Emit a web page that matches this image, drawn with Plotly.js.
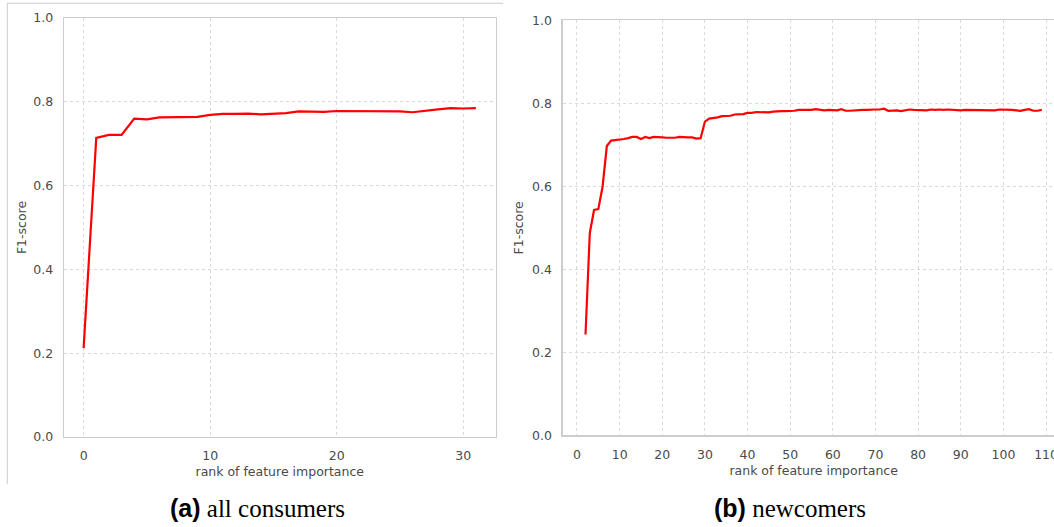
<!DOCTYPE html>
<html>
<head>
<meta charset="utf-8">
<script src="https://cdn.plot.ly/plotly-3.0.1.min.js"></script>
<style>
html,body{margin:0;padding:0;overflow:hidden;background:#fff;}
#chart{width:1070px;height:527px;}
</style>
</head>
<body>
<div id="chart"></div>
<script>
// ---- data ----
var allConsumersStart = 0;
var allConsumersF1 = [0.212, 0.714, 0.721, 0.721, 0.760, 0.758, 0.763, 0.763, 0.764, 0.764,
  0.769, 0.771, 0.771, 0.772, 0.770, 0.772, 0.773, 0.777, 0.776, 0.776,
  0.778, 0.778, 0.778, 0.778, 0.778, 0.777, 0.775, 0.779, 0.782, 0.785,
  0.784, 0.785];

var newcomersStart = 2;
var newcomersF1 = [0.243, 0.487, 0.543, 0.545, 0.599, 0.697, 0.710, 0.711,
  0.712, 0.714, 0.716, 0.719, 0.719, 0.714, 0.719, 0.716, 0.719, 0.719,
  0.718, 0.717, 0.717, 0.717, 0.719, 0.718, 0.718, 0.718, 0.715, 0.716,
  0.756, 0.763, 0.764, 0.766, 0.769, 0.769, 0.770, 0.773, 0.774, 0.774,
  0.777, 0.777, 0.779, 0.779, 0.779, 0.778, 0.780, 0.781, 0.781, 0.781,
  0.781, 0.782, 0.784, 0.784, 0.785, 0.784, 0.786, 0.784, 0.783, 0.784,
  0.783, 0.783, 0.786, 0.782, 0.782, 0.783, 0.783, 0.784, 0.784, 0.785,
  0.785, 0.785, 0.787, 0.782, 0.783, 0.783, 0.781, 0.783, 0.785, 0.784,
  0.784, 0.784, 0.783, 0.785, 0.784, 0.785, 0.784, 0.785, 0.784, 0.784,
  0.783, 0.784, 0.784, 0.784, 0.784, 0.784, 0.783, 0.783, 0.783, 0.785,
  0.785, 0.784, 0.784, 0.783, 0.782, 0.784, 0.786, 0.782, 0.782, 0.784];

var leftXTicks = [0, 10, 20, 30];
var rightXTicks = [0, 10, 20, 30, 40, 50, 60, 70, 80, 90, 100, 110];
var yTicks = [0.0, 0.2, 0.4, 0.6, 0.8, 1.0];
var xTitle = 'rank of feature importance';
var yTitle = 'F1-score';
var captionA = ['(a)', 'all consumers'];
var captionB = ['(b)', 'newcomers'];

function ranks(start, n) { var r = []; for (var i = 0; i < n; i++) r.push(start + i); return r; }

// ---- style ----
var W = 1070, H = 527;
var tickFont = {family: 'DejaVu Sans', size: 12.5, color: '#4a4a4a'};
var titleFont = {family: 'DejaVu Sans', size: 12.5, color: '#4a4a4a'};
function axisBase() {
  return {
    showgrid: true, gridcolor: '#dadada', gridwidth: 1, griddash: 'dot',
    showline: true, mirror: true, linecolor: '#cdcdcd', linewidth: 1.3,
    zeroline: false, ticks: '', tickfont: tickFont, ticklabelstandoff: 7,
    automargin: false, fixedrange: true
  };
}

var traces = [
  {x: ranks(allConsumersStart, allConsumersF1.length), y: allConsumersF1, type: 'scatter', mode: 'lines',
   line: {color: '#ff0000', width: 2.2}, xaxis: 'x', yaxis: 'y', hoverinfo: 'skip'},
  {x: ranks(newcomersStart, newcomersF1.length), y: newcomersF1, type: 'scatter', mode: 'lines',
   line: {color: '#ff0000', width: 2.2}, xaxis: 'x2', yaxis: 'y2', hoverinfo: 'skip'}
];

var xa = axisBase(); xa.domain = [64/W, 495.5/W]; xa.range = [-1.55, 32.55];
xa.tickvals = leftXTicks; xa.anchor = 'y';
xa.title = {text: xTitle, font: titleFont, standoff: 5};
var ya = axisBase(); ya.domain = [90/H, 509/H]; ya.range = [0, 1];
ya.tickvals = yTicks; ya.tickformat = '.1f'; ya.anchor = 'x';
ya.title = {text: yTitle, font: titleFont, standoff: 4};

var xa2 = axisBase(); xa2.domain = [562.7/W, 1064.6/W]; xa2.range = [-3.35, 114.35];
xa2.tickvals = rightXTicks; xa2.anchor = 'y2';
xa2.title = {text: xTitle, font: titleFont, standoff: 5};
var ya2 = axisBase(); ya2.domain = [91.7/H, 506.7/H]; ya2.range = [0, 1];
ya2.tickvals = yTicks; ya2.tickformat = '.1f'; ya2.anchor = 'x2';
ya2.title = {text: yTitle, font: titleFont, standoff: 5};

function cap(parts) {
  return '<span style="font-family:\'Liberation Sans\';font-weight:bold">' + parts[0] + '</span> ' + parts[1];
}

var layout = {
  width: W, height: H,
  margin: {l: 0, r: 0, t: 0, b: 0},
  paper_bgcolor: '#ffffff', plot_bgcolor: '#ffffff',
  showlegend: false,
  xaxis: xa, yaxis: ya, xaxis2: xa2, yaxis2: ya2,
  annotations: [
    {text: cap(captionA), x: 257/W, y: 1 - 508/H, xref: 'paper', yref: 'paper',
     xanchor: 'center', yanchor: 'middle', showarrow: false,
     font: {family: 'Liberation Serif', size: 25, color: '#000'}},
    {text: cap(captionB), x: 789.5/W, y: 1 - 508/H, xref: 'paper', yref: 'paper',
     xanchor: 'center', yanchor: 'middle', showarrow: false,
     font: {family: 'Liberation Serif', size: 25, color: '#000'}}
  ],
  shapes: [
    {type: 'line', xref: 'paper', yref: 'paper', x0: 7.3/W, x1: 503/W, y0: 1 - 3.3/H, y1: 1 - 3.3/H,
     line: {color: '#cccccc', width: 1}},
    {type: 'line', xref: 'paper', yref: 'paper', x0: 7.3/W, x1: 7.3/W, y0: 1 - 3.3/H, y1: 1 - 484/H,
     line: {color: '#cccccc', width: 1}}
  ]
};

Plotly.newPlot('chart', traces, layout, {displayModeBar: false, staticPlot: true});
</script>
</body>
</html>
